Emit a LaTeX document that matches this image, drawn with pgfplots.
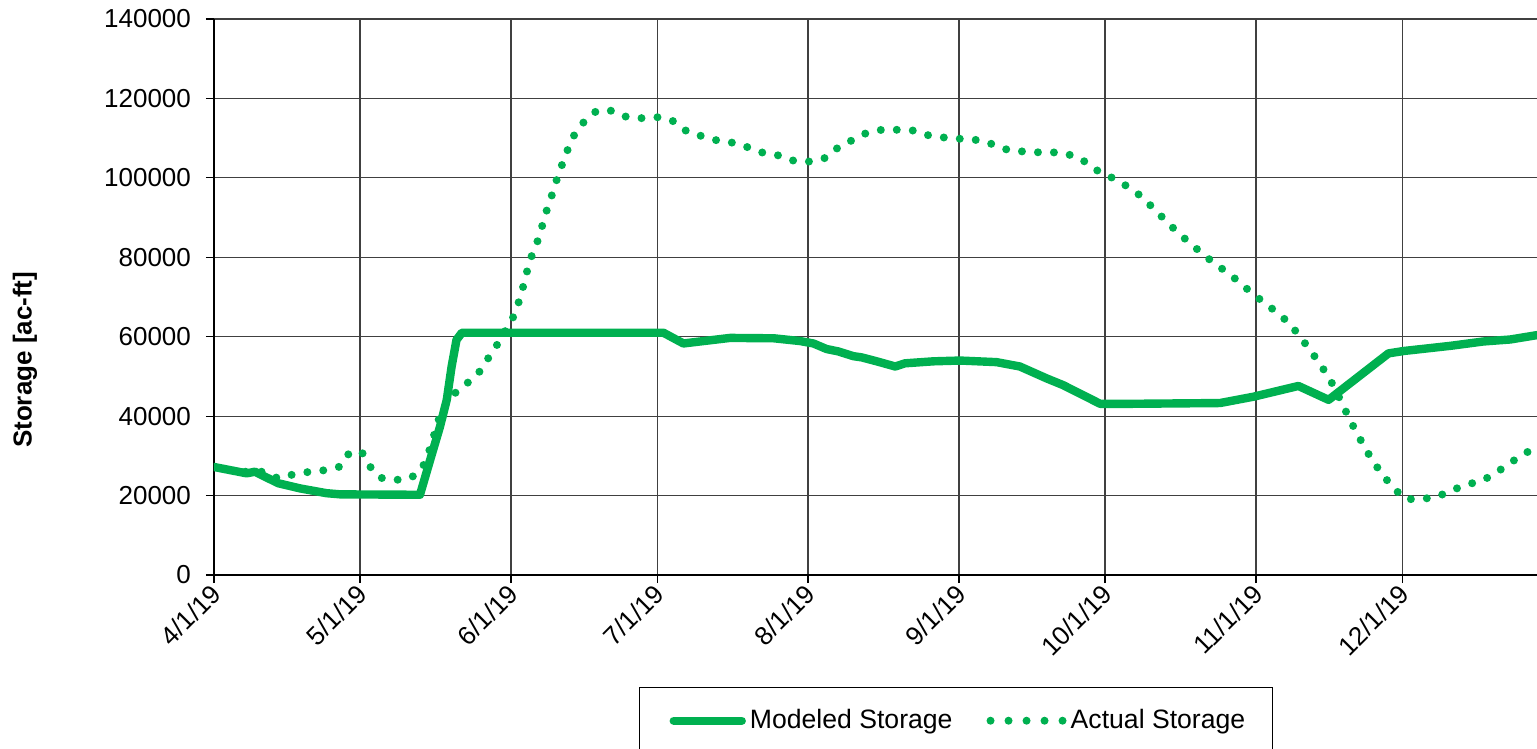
\documentclass[border=0pt]{standalone}
\usepackage{pgfplots}
\pgfplotsset{compat=1.18}
\usepackage{fontspec}
\setmainfont{Liberation Sans}
\definecolor{xlgreen}{RGB}{0,176,80}
\begin{document}
\begin{tikzpicture}
\useasboundingbox (-107pt,-87pt) rectangle (661.5pt,287.5pt);
\clip (-107pt,-87pt) rectangle (661.5pt,287.5pt);
\begin{axis}[
  at={(0pt,0pt)}, anchor=south west,
  scale only axis, width=661.5pt, height=278pt,
  xmin=0, xmax=271.7, ymin=0, ymax=140000,
  axis x line=bottom, axis y line=left,
  axis line style={-, black, line width=0.8pt},
  xtick={0,30,61,91,122,153,183,214,244},
  xticklabels={4/1/19,5/1/19,6/1/19,7/1/19,8/1/19,9/1/19,10/1/19,11/1/19,12/1/19},
  ytick={0,20000,40000,60000,80000,100000,120000,140000},
  scaled y ticks=false,
  yticklabel={\pgfmathprintnumber[fixed,precision=0,1000 sep={}]{\tick}},
  /pgf/number format/assume math mode=true,
  tick align=outside, major tick length=4pt,
  tick style={black, line width=0.6pt},
  grid=major, major grid style={black!75, line width=0.6pt},
  ticklabel style={font=\fontsize{13}{15}\selectfont},
  yticklabel style={anchor=east, xshift=-4pt},
  xticklabel style={rotate=45, anchor=east, xshift=2pt, yshift=-3pt},
  ylabel={Storage [ac-ft]},
  ylabel style={font=\fontsize{13}{15}\selectfont\bfseries, at={(axis description cs:-0.1429,0.387)}, anchor=center},
  legend columns=2,
  legend style={at={(axis description cs:0.3212,-0.2014)}, anchor=north west,
    draw=black, line width=0.6pt, font=\fontsize{13.3}{15}\selectfont,
    inner xsep=11.5pt, inner ysep=9pt,
    /tikz/every even column/.append style={column sep=15pt}},
  clip=true,
]
\addplot[xlgreen, line width=4.2pt, line join=round, line cap=round,
  legend image code/.code={\path (0pt,0pt); \draw[xlgreen, line width=4.2pt, line cap=round] (3.5pt,0pt) -- (37.5pt,0pt);}]
coordinates {
(0,27200) (6.7,25600) (8.4,26000) (13.2,23100) (17.7,21800) (23.1,20600) (26,20300)
(35,20250) (42.3,20200) (44.4,29000) (46.4,37300) (47.8,44100) (48.8,52500) (49.8,59200)
(50.9,61000) (92.3,61000) (96.4,58300) (106,59700) (115,59600) (120.4,58900) (123.1,58300)
(125.8,56900) (128.2,56300) (131.3,55100) (133,54800) (136.1,53800) (139.9,52500) (141.9,53300)
(147.7,53800) (153.2,54000) (160.7,53600) (165.5,52500) (171,49500) (174.4,47800) (182,43100)
(188,43100) (206.6,43300) (213.5,44900) (222.7,47600) (228.9,44100) (241.2,55800) (244.3,56400)
(253.9,57700) (260.7,58800) (266.2,59300) (271.7,60400)
};
\addlegendentry{Modeled Storage}
\addplot[xlgreen, line width=4pt, line cap=round, dash pattern=on 0pt off 8pt,
  legend image code/.code={\draw[xlgreen, line width=4pt, line cap=round, dash pattern=on 0pt off 9pt] (0pt,0pt) -- (36.1pt,0pt);}]
coordinates {
(0,27200) (5,26000) (8.4,26000) (10.1,26000) (13.2,24300) (16.5,25400) (19.7,26000)
(22.9,26400) (25.9,27300) (27.7,30600) (30.3,31100) (31.9,27500) (34.1,24500) (37,23900)
(40.3,24300) (42.7,26700) (44,30500) (45,34400) (45.9,38400) (47.1,42100) (49.2,45500)
(51.7,48000) (54.2,50600) (56,54000) (57.9,57500) (61.3,64500) (62.5,68400) (63.4,72200)
(64.2,76100) (65.2,80200) (66.4,83900) (67.4,87900) (68.3,91700) (69.4,95700) (70.4,99600)
(71.5,103400) (72.7,107300) (74.1,111100) (76.1,114300) (78.6,116900) (81.8,116900)
(84.8,115300) (88.2,115000) (91.5,115300) (94.5,114200) (97.2,111600) (100.2,110500)
(103.4,109400) (106.8,108800) (109.9,107600) (113,106200) (116.2,105600) (119.3,104200)
(122.6,104100) (125.8,105100) (128.3,107800) (131.1,109500) (134,111300) (137.1,112100)
(140.4,112100) (143.8,111900) (147,110600) (150.3,110100) (153.6,109800) (157,109500)
(160.1,108400) (163.3,106900) (166.6,106600) (169.9,106400) (173.2,106400) (176.5,105600)
(179.3,103800) (182.1,101200) (185.1,99700) (188,97500) (190.7,95100) (193,92200)
(195.4,89300) (197.7,86500) (200.2,83800) (202.8,81100) (205.4,78500) (208.2,76100)
(210.7,73600) (213.2,70900) (215.9,68400) (218.5,65900) (221,63200) (223,60000)
(225.1,56700) (227,53300) (228.9,49900) (230.4,46400) (231.9,42600) (233.3,39000)
(234.9,35300) (236.5,31700) (238.2,28300) (240.2,24900) (242.3,21800) (244.7,19100)
(247.9,19100) (251.2,19700) (254.3,21400) (257.5,22800) (260.7,23900) (263.6,26000)
(266.3,28300) (269.1,30600) (271.7,32100)
};
\addlegendentry{Actual Storage}
\end{axis}
\end{tikzpicture}
\end{document}
